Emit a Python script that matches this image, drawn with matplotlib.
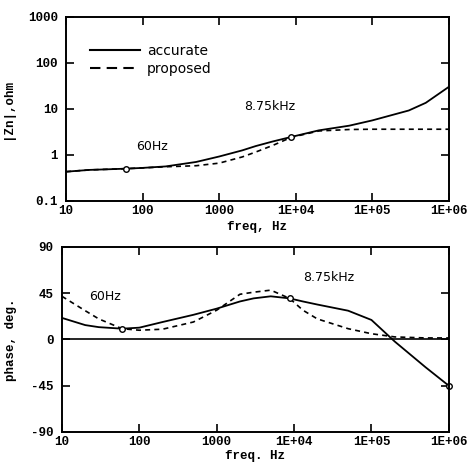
import matplotlib
matplotlib.use("Agg")
import matplotlib.pyplot as plt
from matplotlib.lines import Line2D

# magnitude |Zn| (ohm) vs frequency
freq_mag = [10, 20, 60, 100, 200, 500, 1000, 2000, 3000, 5000, 8750,
            20000, 50000, 1e5, 3e5, 5e5, 1e6]
acc_mag = [0.43, 0.47, 0.50, 0.52, 0.56, 0.70, 0.92, 1.25, 1.55, 1.95, 2.45,
           3.4, 4.3, 5.6, 9.2, 13.5, 30]
prop_mag = [0.43, 0.47, 0.50, 0.52, 0.55, 0.58, 0.66, 0.90, 1.15, 1.60, 2.40,
            3.3, 3.55, 3.6, 3.6, 3.6, 3.6]

# phase (deg) vs frequency
freq_ph = [10, 20, 30, 60, 100, 200, 500, 1000, 2000, 3000, 5000, 8750,
           13000, 20000, 50000, 1e5, 2e5, 5e5, 1e6]
acc_ph = [21, 14, 12, 10.5, 11.5, 17, 24, 30, 37, 40, 42, 40,
          37, 34, 28, 19, -2, -27, -45]
prop_ph = [42, 28, 20, 10.5, 9, 10, 17, 28.5, 44, 46, 48, 40,
           28.5, 20, 10.5, 5.6, 2.5, 1.5, 1.5]

# marked points on the accurate curves
mark_f_mag = [60, 8750]
mark_mag = [0.50, 2.45]
mark_f_ph = [60, 8750, 1e6]
mark_ph = [10.5, 40, -45]

xticks = [10, 100, 1000, 1e4, 1e5, 1e6]
xticklabels = ["10", "100", "1000", "1E+04", "1E+05", "1E+06"]

tickfont = dict(family="Liberation Mono", weight="bold", size=9)
labfont = dict(family="Liberation Mono", weight="bold", size=9)
annfont = dict(family="DejaVu Sans", size=9)

fig = plt.figure(figsize=(4.69, 4.66), dpi=100)
ax1 = fig.add_axes([0.141, 0.569, 0.816, 0.395])
ax2 = fig.add_axes([0.132, 0.073, 0.825, 0.397])


def style_axes(ax):
    ax.set_xscale("log")
    ax.set_xlim(10, 1e6)
    ax.set_xticks(xticks)
    ax.set_xticklabels(xticklabels, fontdict=tickfont)
    ax.xaxis.set_minor_locator(matplotlib.ticker.NullLocator())
    ax.tick_params(which="major", direction="in", length=6, width=1.2,
                   top=True, right=True)
    ax.tick_params(axis="x", pad=3)
    ax.tick_params(axis="y", pad=6)
    for s in ax.spines.values():
        s.set_linewidth(1.4)


# top: magnitude
style_axes(ax1)
ax1.set_yscale("log")
ax1.set_ylim(0.1, 1000)
ax1.set_yticks([0.1, 1, 10, 100, 1000])
ax1.set_yticklabels(["0.1", "1", "10", "100", "1000"], fontdict=tickfont)
ax1.yaxis.set_minor_locator(matplotlib.ticker.NullLocator())
ax1.plot(freq_mag, acc_mag, color="black", lw=1.3)
ax1.plot(freq_mag, prop_mag, color="black", lw=1.2, linestyle=(0, (3, 2.5)))
ax1.plot(mark_f_mag, mark_mag, "o", ms=4, mfc="white", mec="black", mew=1)
ax1.text(134, 1.5, "60Hz", ha="center", va="center", **annfont)
ax1.text(4600, 11, "8.75kHz", ha="center", va="center", **annfont)
ax1.set_xlabel("freq, Hz", fontdict=labfont)
ax1.set_ylabel("|Zn|,ohm", fontdict=labfont)
ax1.xaxis.set_label_coords(0.5, -0.11)
ax1.yaxis.set_label_coords(-0.135, 0.5)

handles = [Line2D([], [], color="black", lw=1.5),
           Line2D([], [], color="black", lw=1.5, linestyle=(0, (5, 3)))]
ax1.legend(handles, ["accurate", "proposed"], loc="upper left",
           bbox_to_anchor=(0.03, 0.92), frameon=False, handlelength=3.6,
           handletextpad=0.5, labelspacing=0.3, prop={"family": "DejaVu Sans", "size": 10})

# bottom: phase
style_axes(ax2)
ax2.set_ylim(-90, 90)
ax2.set_yticks([-90, -45, 0, 45, 90])
ax2.set_yticklabels(["-90", "-45", "0", "45", "90"], fontdict=tickfont)
ax2.axhline(0, color="black", lw=1.2)
ax2.plot(freq_ph, acc_ph, color="black", lw=1.3)
ax2.plot(freq_ph, prop_ph, color="black", lw=1.2, linestyle=(0, (3, 2.5)))
ax2.plot(mark_f_ph, mark_ph, "o", ms=4, mfc="white", mec="black", mew=1,
         clip_on=False)
ax2.text(36, 42, "60Hz", ha="center", va="center", **annfont)
ax2.text(28000, 60, "8.75kHz", ha="center", va="center", **annfont)
ax2.set_xlabel("freq. Hz", fontdict=labfont)
ax2.set_ylabel("phase, deg.", fontdict=labfont)
ax2.xaxis.set_label_coords(0.5, -0.10)
ax2.yaxis.set_label_coords(-0.115, 0.5)

plt.savefig("out.png", dpi=100)
